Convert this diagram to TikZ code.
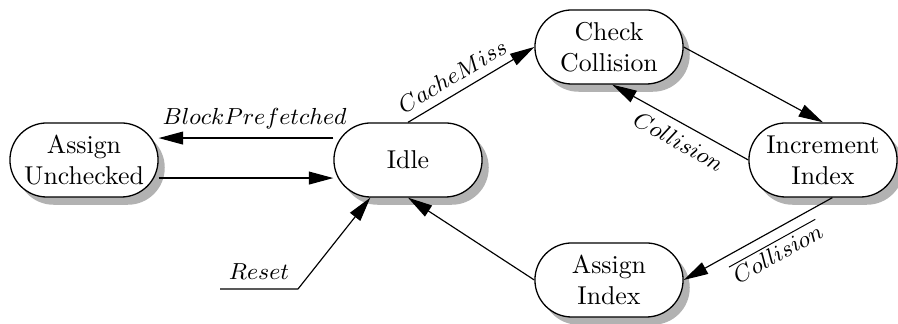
\documentclass[tikz,border=0pt]{standalone}
\usepackage{amsmath}
\usepackage{amssymb}
\usetikzlibrary{arrows.meta,shadows}

\begin{document}
\begin{tikzpicture}[x=.3876pt,y=-.3876pt,line join=round,
  stnode/.style={draw,line width=.5pt,fill=white,rounded corners=14.3pt,
    minimum width=57.4pt,minimum height=28.7pt,align=center,inner sep=2pt,
    drop shadow={shadow xshift=2.6pt,shadow yshift=-3pt,fill=black!30,opacity=1}},
  trans/.style={line width=.45pt,-{Triangle[length=9.5pt,width=5pt]}},
  lbl/.style={font=\small}]
\useasboundingbox (0,0) rectangle (898,324);
% states
\node[stnode] (unchk) at (84,160) {Assign\\Unchecked};
\node[stnode] (idle) at (408,160) {Idle};
\node[stnode] (check) at (609,47) {Check\\Collision};
\node[stnode] (incr) at (823,160) {Increment\\Index};
\node[stnode] (assign) at (609,280) {Assign\\Index};
\coordinate (rst) at (220,289);
% transitions
\draw[trans] ([yshift=8.5pt]idle.west) -- ([yshift=8.5pt]unchk.east) node[lbl,above,pos=.45] {$BlockPrefetched$};
\draw[trans] ([yshift=-7pt]unchk.east) -- ([yshift=-7pt]idle.west);
\draw[trans] (idle.north) -- (check.west) node[lbl,sloped,above,pos=.42] {$CacheMiss$};
\draw[trans] (check.east) -- (incr.north);
\draw[trans] (incr.west) -- (check.-85) node[lbl,sloped,below,pos=.45] {$Collision$};
\draw[trans] (incr.-76) -- (assign.east) node[lbl,sloped,below,pos=.44] {$\overline{Collision}$};
\draw[trans] (assign.west) -- (idle.south);
\draw[trans] (rst) -- ++(78,0) node[lbl,midway,above] {$Reset$} -- (idle.-135);
\end{tikzpicture}
\end{document}
